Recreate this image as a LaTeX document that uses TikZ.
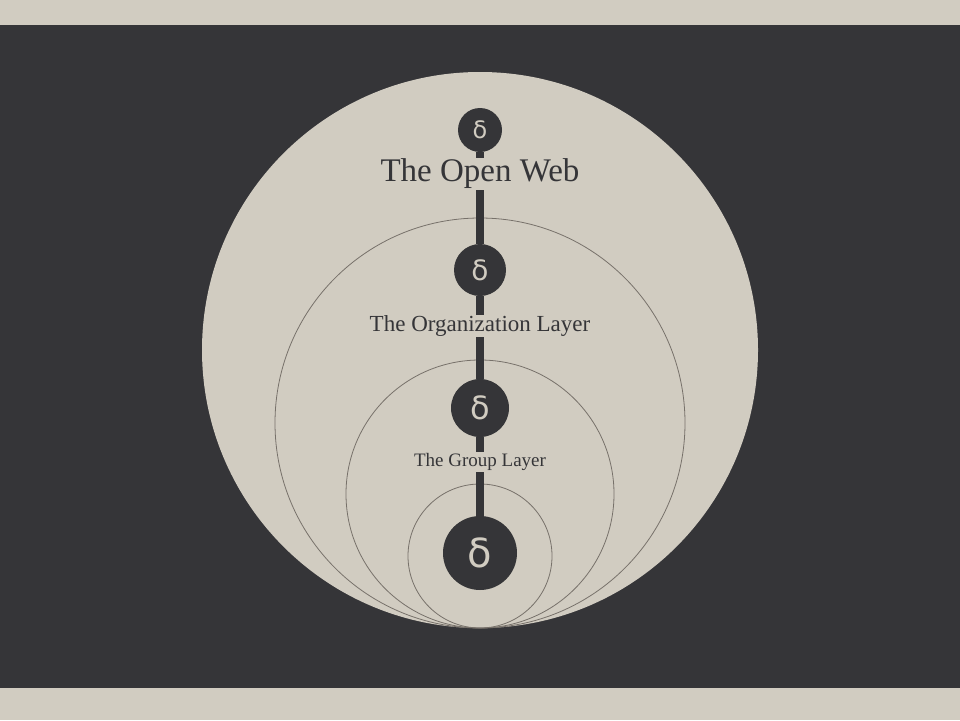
\documentclass[tikz,border=0pt]{standalone}
\usepackage{fontspec}
\setmainfont{Liberation Serif}
\newfontfamily\dfont{DejaVu Sans}
\definecolor{beige}{HTML}{D1CCC1}
\definecolor{dark}{HTML}{353538}
\definecolor{ring}{HTML}{77716A}
\begin{document}
\begin{tikzpicture}[x=1pt,y=-1pt,
  ringc/.style={draw=ring,line width=0.8pt},
  icon/.style={circle,fill=dark,text=beige,inner sep=0pt,font=\dfont},
  lbl/.style={fill=beige,text=dark,inner sep=2pt}]
\useasboundingbox (0,0) rectangle (960,720);
\fill[beige] (0,0) rectangle (960,720);
\fill[dark] (0,25) rectangle (960,688);
\fill[beige] (480,350) circle (278);
\draw[ringc] (480,423) circle (205);
\draw[ringc] (480,494) circle (134);
\draw[ringc] (480,556) circle (72);
\node[icon,minimum size=44pt,font=\dfont\fontsize{24}{24}\selectfont] (i1) at (480,130) {δ};
\node[icon,minimum size=52pt,font=\dfont\fontsize{28}{28}\selectfont] (i2) at (480,270) {δ};
\node[icon,minimum size=58pt,font=\dfont\fontsize{32}{32}\selectfont] (i3) at (480,408) {δ};
\node[icon,minimum size=74pt,font=\dfont\fontsize{40}{40}\selectfont] (i4) at (480,553) {δ};
\begin{scope}[on background layer/.style={}]
\end{scope}
\draw[dark,line width=8pt] (i1) -- (i2);
\draw[dark,line width=8pt] (i2) -- (i3);
\draw[dark,line width=8pt] (i3) -- (i4);
\node[lbl,font=\fontsize{33}{33}\selectfont,inner sep=1pt] (t1) at (480,174) {The Open Web};
\node[lbl,font=\fontsize{23}{23}\selectfont,inner sep=1pt] (t2) at (480,326) {The Organization Layer};
\node[lbl,font=\fontsize{19}{19}\selectfont,inner sep=1pt] (t3) at (480,462) {The Group Layer};
\end{tikzpicture}
\end{document}
